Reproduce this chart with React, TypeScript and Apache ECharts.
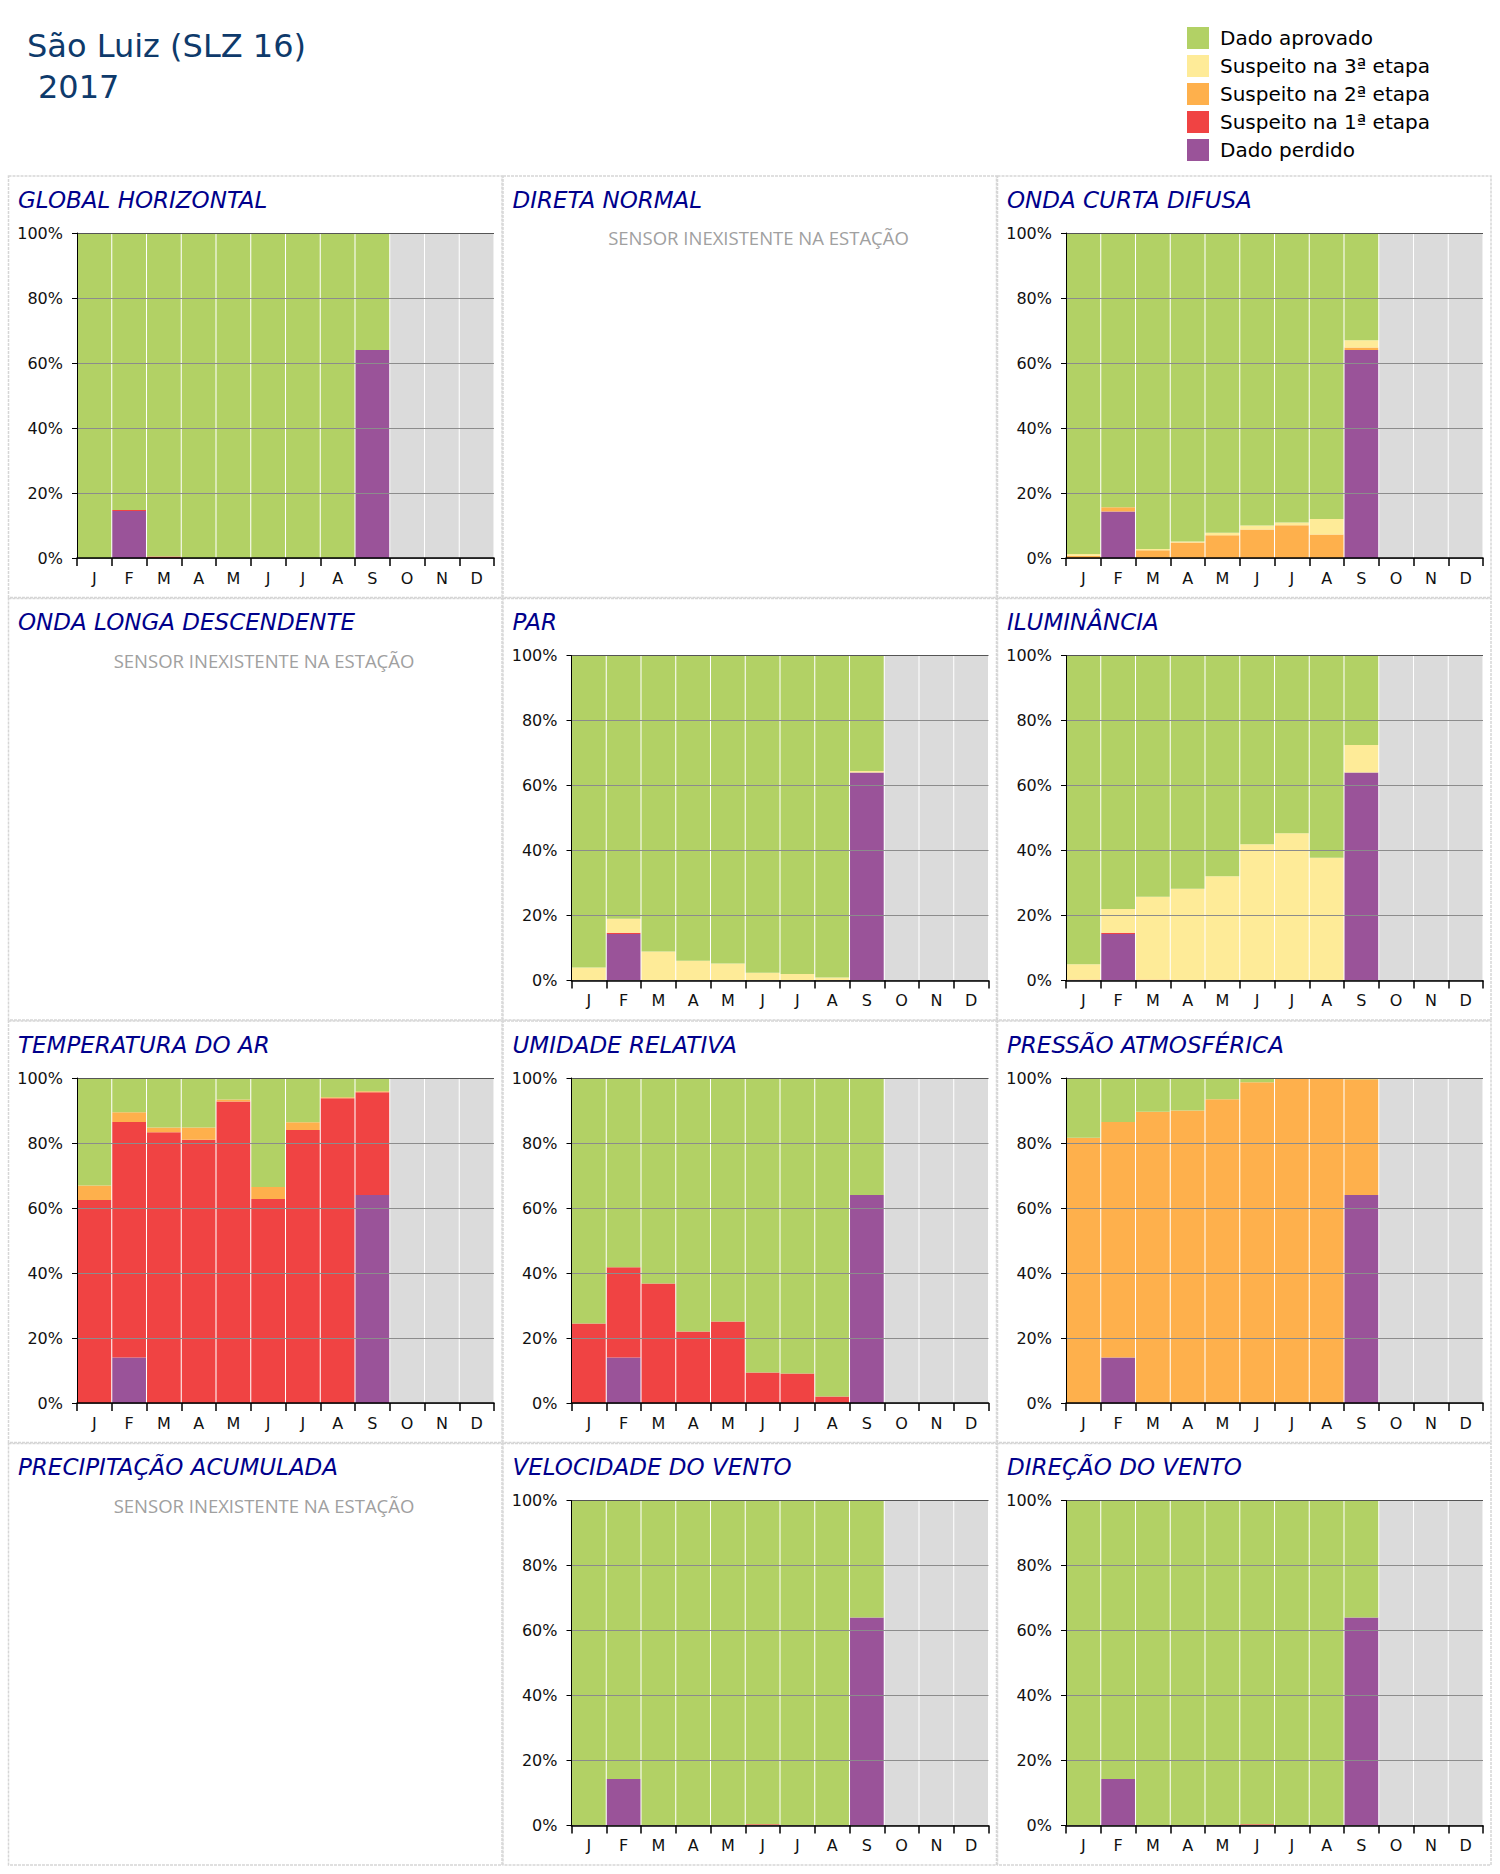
import React, { useEffect, useRef } from "react";
import * as echarts from "echarts";

// ---------- DATA ----------
const months = ["J", "F", "M", "A", "M", "J", "J", "A", "S", "O", "N", "D"];
const legendNames = [
  "Dado aprovado",
  "Suspeito na 3ª etapa",
  "Suspeito na 2ª etapa",
  "Suspeito na 1ª etapa",
  "Dado perdido",
];
const semDados = [null, null, null, null, null, null, null, null, null, 100, 100, 100];

// GLOBAL HORIZONTAL
const globalPerdido = [0, 14.5, 0, 0, 0, 0, 0, 0, 64, null, null, null];
const globalS1 = [0, 0.3, 0.5, 0, 0, 0, 0, 0, 0, null, null, null];
const globalS2 = [0, 0, 0, 0, 0, 0, 0, 0, 0, null, null, null];
const globalS3 = [0, 0, 0, 0, 0, 0, 0, 0, 0, null, null, null];
const globalAprovado = [100, 85.2, 99.5, 100, 100, 100, 100, 100, 36, null, null, null];

// ONDA CURTA DIFUSA
const difusaPerdido = [0, 14.3, 0, 0, 0, 0, 0, 0, 64, null, null, null];
const difusaS1 = [0, 0, 0, 0, 0, 0, 0, 0, 0, null, null, null];
const difusaS2 = [0.7, 1.3, 2.4, 4.8, 7.0, 8.8, 10.1, 7.2, 0.8, null, null, null];
const difusaS3 = [0.5, 0, 0.4, 0.3, 0.8, 1.2, 0.8, 4.8, 2.2, null, null, null];
const difusaAprovado = [98.8, 84.4, 97.2, 94.9, 92.2, 90.0, 89.1, 88.0, 33.0, null, null, null];

// PAR
const parPerdido = [0, 14.3, 0, 0, 0, 0, 0, 0, 64, null, null, null];
const parS1 = [0, 0.4, 0, 0, 0, 0, 0, 0, 0, null, null, null];
const parS2 = [0, 0, 0, 0, 0, 0, 0, 0, 0, null, null, null];
const parS3 = [4.0, 4.3, 8.9, 6.1, 5.2, 2.4, 2.0, 0.9, 0.5, null, null, null];
const parAprovado = [96.0, 81.0, 91.1, 93.9, 94.8, 97.6, 98.0, 99.1, 35.5, null, null, null];

// ILUMINÂNCIA
const ilumPerdido = [0, 14.3, 0, 0, 0, 0, 0, 0, 64, null, null, null];
const ilumS1 = [0, 0.4, 0, 0, 0, 0, 0, 0, 0, null, null, null];
const ilumS2 = [0.3, 0, 0.3, 0, 0, 0, 0, 0, 0, null, null, null];
const ilumS3 = [4.7, 7.3, 25.5, 28.2, 32.1, 41.9, 45.3, 37.8, 8.5, null, null, null];
const ilumAprovado = [95.0, 78.0, 74.2, 71.8, 67.9, 58.1, 54.7, 62.2, 27.5, null, null, null];

// TEMPERATURA DO AR
const tempPerdido = [0, 14, 0, 0, 0, 0, 0, 0, 64, null, null, null];
const tempS1 = [62.5, 72.5, 83.3, 81.0, 92.8, 62.8, 84.0, 93.8, 31.6, null, null, null];
const tempS2 = [4.4, 3.0, 1.5, 3.8, 0.6, 3.7, 2.4, 0.3, 0.3, null, null, null];
const tempS3 = [0, 0, 0, 0, 0, 0, 0, 0, 0, null, null, null];
const tempAprovado = [33.1, 10.5, 15.2, 15.2, 6.6, 33.5, 13.6, 5.9, 4.1, null, null, null];

// UMIDADE RELATIVA
const umidPerdido = [0, 14, 0, 0, 0, 0, 0, 0, 64, null, null, null];
const umidS1 = [24.5, 27.8, 36.8, 22.0, 25.1, 9.4, 9.1, 2.0, 0, null, null, null];
const umidS2 = [0, 0, 0, 0, 0, 0, 0, 0, 0, null, null, null];
const umidS3 = [0, 0, 0, 0, 0, 0, 0, 0, 0, null, null, null];
const umidAprovado = [75.5, 58.2, 63.2, 78.0, 74.9, 90.6, 90.9, 98.0, 36.0, null, null, null];

// PRESSÃO ATMOSFÉRICA
const pressPerdido = [0, 14, 0, 0, 0, 0, 0, 0, 64, null, null, null];
const pressS1 = [0, 0, 0, 0, 0, 0, 0, 0, 0, null, null, null];
const pressS2 = [81.6, 72.5, 89.6, 90.0, 93.5, 98.7, 100, 100, 35.6, null, null, null];
const pressS3 = [0, 0, 0, 0, 0, 0, 0, 0, 0, null, null, null];
const pressAprovado = [18.4, 13.5, 10.4, 10.0, 6.5, 1.3, 0, 0, 0.4, null, null, null];

// VELOCIDADE DO VENTO
const velPerdido = [0, 14.3, 0, 0, 0, 0, 0, 0, 64, null, null, null];
const velS1 = [0, 0, 0, 0, 0, 0.4, 0, 0, 0, null, null, null];
const velS2 = [0, 0, 0, 0, 0, 0, 0, 0, 0, null, null, null];
const velS3 = [0, 0, 0, 0, 0, 0, 0, 0, 0, null, null, null];
const velAprovado = [100, 85.7, 100, 100, 100, 99.6, 100, 100, 36, null, null, null];

// DIREÇÃO DO VENTO
const dirPerdido = [0, 14.3, 0, 0, 0, 0, 0, 0, 64, null, null, null];
const dirS1 = [0, 0, 0, 0, 0, 0.4, 0, 0, 0, null, null, null];
const dirS2 = [0, 0, 0, 0, 0, 0, 0, 0, 0, null, null, null];
const dirS3 = [0, 0, 0, 0, 0, 0, 0, 0, 0, null, null, null];
const dirAprovado = [100, 85.7, 100, 100, 100, 99.6, 100, 100, 36, null, null, null];

type PanelData = { perdido: any[]; s1: any[]; s2: any[]; s3: any[]; aprovado: any[] } | null;
const panels: { title: string; data: PanelData }[] = [
  { title: "GLOBAL HORIZONTAL", data: { perdido: globalPerdido, s1: globalS1, s2: globalS2, s3: globalS3, aprovado: globalAprovado } },
  { title: "DIRETA NORMAL", data: null },
  { title: "ONDA CURTA DIFUSA", data: { perdido: difusaPerdido, s1: difusaS1, s2: difusaS2, s3: difusaS3, aprovado: difusaAprovado } },
  { title: "ONDA LONGA DESCENDENTE", data: null },
  { title: "PAR", data: { perdido: parPerdido, s1: parS1, s2: parS2, s3: parS3, aprovado: parAprovado } },
  { title: "ILUMINÂNCIA", data: { perdido: ilumPerdido, s1: ilumS1, s2: ilumS2, s3: ilumS3, aprovado: ilumAprovado } },
  { title: "TEMPERATURA DO AR", data: { perdido: tempPerdido, s1: tempS1, s2: tempS2, s3: tempS3, aprovado: tempAprovado } },
  { title: "UMIDADE RELATIVA", data: { perdido: umidPerdido, s1: umidS1, s2: umidS2, s3: umidS3, aprovado: umidAprovado } },
  { title: "PRESSÃO ATMOSFÉRICA", data: { perdido: pressPerdido, s1: pressS1, s2: pressS2, s3: pressS3, aprovado: pressAprovado } },
  { title: "PRECIPITAÇÃO ACUMULADA", data: null },
  { title: "VELOCIDADE DO VENTO", data: { perdido: velPerdido, s1: velS1, s2: velS2, s3: velS3, aprovado: velAprovado } },
  { title: "DIREÇÃO DO VENTO", data: { perdido: dirPerdido, s1: dirS1, s2: dirS2, s3: dirS3, aprovado: dirAprovado } },
];
const sensorMsg = "SENSOR INEXISTENTE NA ESTAÇÃO";
const stationTitle = "São Luiz (SLZ 16)";
const yearTitle = "2017";

// ---------- STYLE ----------
const COLORS = {
  aprovado: "#b2d165",
  s3: "#feeb98",
  s2: "#feb04c",
  s1: "#f04343",
  perdido: "#9a5399",
  semDados: "#dbdbdb",
};

const PANEL_X0 = 8;
const PANEL_Y0 = 175.5;
const PANEL_W = 494.5;
const PANEL_H = 422.5;
const PLOT_DX = 69;
const PLOT_DY = 57.5;
const PLOT_W = 417;
const PLOT_H = 325;

function buildOption() {
  const grid: any[] = [];
  const xAxis: any[] = [];
  const yAxis: any[] = [];
  const series: any[] = [];
  const graphic: any[] = [];

  graphic.push({
    type: "text",
    x: 27,
    y: 46,
    style: {
      text: stationTitle,
      fill: "#0e3a6b",
      font: "32px 'DejaVu Sans'",
      textVerticalAlign: "middle",
      verticalAlign: "middle",
    },
  });
  graphic.push({
    type: "text",
    x: 38,
    y: 87,
    style: {
      text: yearTitle,
      fill: "#0e3a6b",
      font: "32px 'DejaVu Sans'",
      textVerticalAlign: "middle",
      verticalAlign: "middle",
    },
  });

  let g = 0;
  panels.forEach((p, idx) => {
    const col = idx % 3;
    const row = Math.floor(idx / 3);
    const px = PANEL_X0 + col * PANEL_W;
    const py = PANEL_Y0 + row * PANEL_H;
    graphic.push({
      type: "rect",
      shape: { x: px + 0.5, y: py + 0.5, width: PANEL_W - 1, height: PANEL_H - 1 },
      style: { fill: "none", stroke: "#d6d6d6", lineWidth: 1.5, lineDash: [3, 1] },
      z: 0,
    });
    graphic.push({
      type: "text",
      x: px + 10,
      y: py + 24,
      style: {
        text: p.title,
        fill: "#00008b",
        font: "italic 23px 'DejaVu Sans'",
        textVerticalAlign: "middle",
        verticalAlign: "middle",
      },
    });
    if (!p.data) {
      graphic.push({
        type: "text",
        x: px + 256,
        y: py + 62,
        style: {
          text: sensorMsg,
          fill: "#a0a0a0",
          font: "18.5px 'Open Sans'",
          textAlign: "center",
          align: "center",
          textVerticalAlign: "middle",
          verticalAlign: "middle",
        },
      });
      return;
    }
    grid.push({ left: px + PLOT_DX, top: py + PLOT_DY, width: PLOT_W, height: PLOT_H, containLabel: false });
    xAxis.push({
      type: "category",
      gridIndex: g,
      data: months,
      z: 4,
      axisLine: { lineStyle: { color: "#000", width: 1.5 } },
      axisTick: { show: true, length: 8, lineStyle: { color: "#000", width: 1.5 } },
      axisLabel: { interval: 0, fontSize: 16, fontFamily: "DejaVu Sans", color: "#111", margin: 12 },
      splitLine: { show: false },
    });
    yAxis.push({
      type: "value",
      gridIndex: g,
      min: 0,
      max: 100,
      interval: 20,
      z: 3,
      axisLine: { show: true, lineStyle: { color: "#000", width: 1 } },
      axisTick: { show: true, length: 5, lineStyle: { color: "#000" } },
      axisLabel: { formatter: "{value}%", fontSize: 16, fontFamily: "DejaVu Sans", color: "#111", margin: 14 },
      splitLine: {
        show: true,
        lineStyle: { color: ["#8c8c8c", "#8c8c8c", "#8c8c8c", "#8c8c8c", "#8c8c8c", "#555"], width: 1 },
      },
    });
    const stack = "stack" + g;
    const mk = (name: string, data: any[], color: string) => ({
      type: "bar",
      name,
      xAxisIndex: g,
      yAxisIndex: g,
      stack,
      barCategoryGap: "3%",
      data,
      itemStyle: { color },
      emphasis: { disabled: true },
    });
    series.push(mk(legendNames[4], p.data.perdido, COLORS.perdido));
    series.push(mk(legendNames[3], p.data.s1, COLORS.s1));
    series.push(mk(legendNames[2], p.data.s2, COLORS.s2));
    series.push(mk(legendNames[1], p.data.s3, COLORS.s3));
    series.push(mk(legendNames[0], p.data.aprovado, COLORS.aprovado));
    series.push(mk("Sem dados", semDados, COLORS.semDados));
    g++;
  });

  return {
    animation: false,
    backgroundColor: "#fff",
    legend: {
      data: legendNames,
      orient: "vertical",
      left: 1182,
      top: 22,
      padding: 5,
      itemWidth: 22,
      itemHeight: 22,
      itemGap: 6,
      icon: "rect",
      selectedMode: false,
      textStyle: { fontSize: 20, fontFamily: "DejaVu Sans", color: "#000", padding: [0, 0, 0, 6] },
    },
    grid,
    xAxis,
    yAxis,
    series,
    graphic,
  };
}

export default function App() {
  const ref = useRef<HTMLDivElement>(null);
  useEffect(() => {
    if (!ref.current) return;
    const chart = echarts.init(ref.current, undefined, { renderer: "svg" });
    chart.setOption(buildOption() as any);
    return () => chart.dispose();
  }, []);
  return (
    <div
      ref={ref}
      style={{ position: "absolute", left: 0, top: 0, width: 1500, height: 1874, background: "#fff" }}
    />
  );
}
